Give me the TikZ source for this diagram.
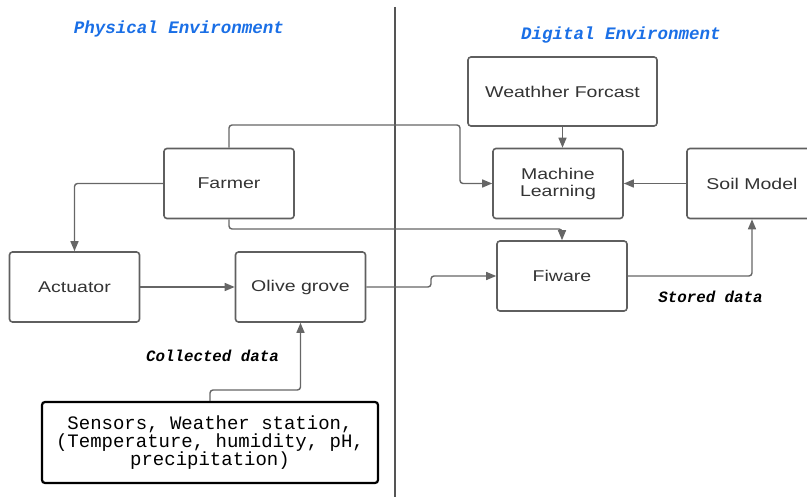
\documentclass[tikz,border=0pt]{standalone}
\usepackage{fontspec}
\setmainfont[FakeStretch=1.25]{Liberation Sans}
\newfontfamily\monofont{Liberation Mono}
\usetikzlibrary{arrows.meta}
\definecolor{linegray}{HTML}{666666}
\definecolor{boxgray}{HTML}{5F5F5F}
\definecolor{textgray}{HTML}{333333}
\definecolor{titleblue}{HTML}{1A6FE6}
\definecolor{divgray}{HTML}{555555}
\begin{document}
\begin{tikzpicture}[x=1pt,y=-1pt,
  box/.style={draw=boxgray, line width=1.6pt, rounded corners=3pt,
    minimum width=130pt, minimum height=70pt, inner sep=0pt,
    text=textgray, align=center, font=\fontsize{15.6}{17}\selectfont},
  sensbox/.style={draw=black, line width=2.2pt, rounded corners=3pt,
    minimum width=336pt, minimum height=81pt, inner sep=0pt,
    text=black, align=center,
    font=\monofont\fontsize{19}{18}\selectfont},
  link/.style={draw=linegray, line width=1.4pt, rounded corners=3pt,
    -{Triangle[length=10pt,width=8pt]}},
  title/.style={text=titleblue, inner sep=0pt,
    font=\monofont\bfseries\itshape\fontsize{17.5}{20}\selectfont},
  datalabel/.style={text=black, inner sep=0pt,
    font=\monofont\bfseries\itshape\fontsize{15.8}{18}\selectfont},
  divider/.style={draw=divgray, line width=2pt}]
\clip (0,0) rectangle (807,497);

% separator between the two environments
\draw[divider] (395,7) -- (395,497);

% headings
\node[title] (phys) at (179,29) {Physical Environment};
\node[title] (dig) at (621,35) {Digital Environment};

% digital side
\node[box, minimum width=189pt, minimum height=69pt] (wf) at (562.5,91.5) {Weathher Forcast};
\node[box] (ml) at (558,183.5) {Machine\\Learning};
\node[box] (soil) at (752,183.5) {Soil Model};
\node[box] (fiware) at (562,276) {Fiware};

% physical side
\node[box] (farmer) at (229,183.5) {Farmer};
\node[box] (act) at (74.5,287) {Actuator};
\node[box] (olive) at (300.5,287) {Olive grove};
\node[sensbox] (sens) at (210,442.5) {Sensors, Weather station,\\(Temperature, humidity, pH,\\precipitation)};

% edge labels
\node[datalabel] (coll) at (212.5,356) {Collected data};
\node[datalabel] (stored) at (710.5,297) {Stored data};

% routing points
\coordinate (f1) at (460,125);
\coordinate (f2) at (562,229);
\coordinate (s1) at (431,287);
\coordinate (c1) at (210,390);

% connectors
\draw[link] (farmer.north) |- (f1) |- (ml.west);
\draw[link] (farmer.south) |- (f2) -- (fiware.north);
\draw[link] (farmer.west) -| (act.north);
\draw[link] (act.east) -- (olive.west);
\draw[link] (olive.east) -- (s1) |- (fiware.west);
\draw[link] (sens.north) -- (c1) -| (olive.south);
\draw[link] (wf.south) -- (wf.south |- ml.north);
\draw[link] (soil.west) -- (ml.east);
\draw[link] (fiware.east) -| (soil.south);
\end{tikzpicture}
\end{document}
